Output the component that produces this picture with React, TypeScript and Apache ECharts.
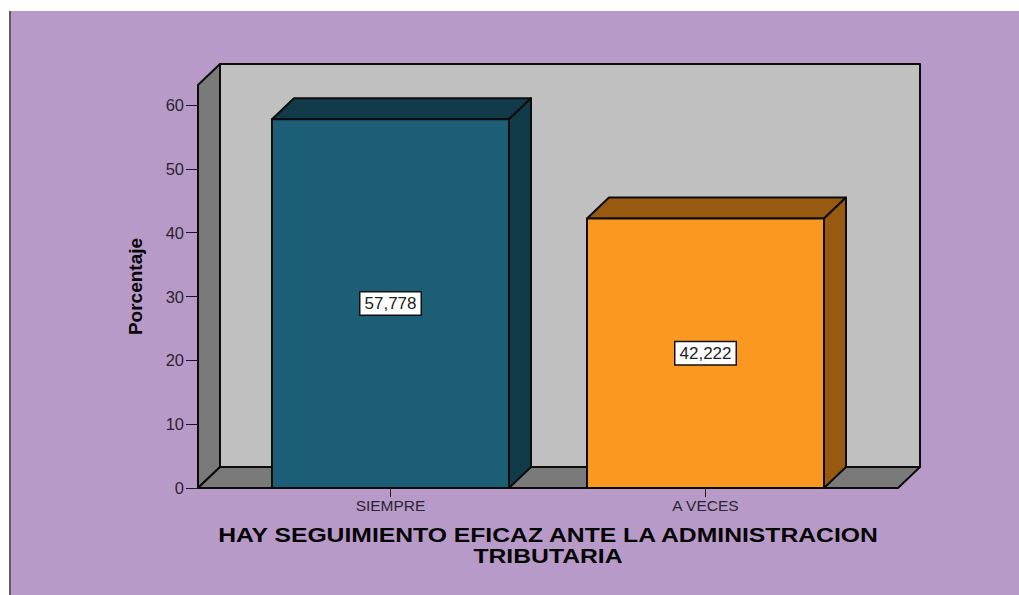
import React, { useEffect, useRef } from "react";
import * as echarts from "echarts";

const categories = ["SIEMPRE", "A VECES"];
const percentages = [57.778, 42.222];
const percentageLabels = ["57,778", "42,222"];
const yTicks = [0, 10, 20, 30, 40, 50, 60];
const faceColors = ["#1b5e75", "#fb981f"];
const sideColors = ["#123b49", "#985a10"];
const xTitle = "HAY SEGUIMIENTO EFICAZ ANTE LA ADMINISTRACION\nTRIBUTARIA";

const AXIS_TEXT = "#2a2533";
const FONT = "'Liberation Sans', Arial, sans-serif";
const DX = 22;
const DY = 21;
const BAR_W = 237;
const LEFT = 198;
const RIGHT = 898;
const TOP = 85;
const BASE = 488;

export default function App() {
  const ref = useRef<HTMLDivElement>(null);
  useEffect(() => {
    document.body.style.margin = "0";
    const chart = echarts.init(ref.current!, undefined, { renderer: "svg" });
    const line = { stroke: "#0c0c0c", lineWidth: 2, lineJoin: "round" };
    const poly = (points: number[][], fill: string) => ({
      type: "polygon",
      shape: { points },
      style: { fill, ...line },
      z: 0,
    });
    chart.setOption({
      animation: false,
      backgroundColor: "#ffffff",
      graphic: [
        { type: "rect", shape: { x: 11, y: 11, width: 1008, height: 584 }, style: { fill: "#b89ac8" }, z: -2 },
        { type: "rect", shape: { x: 9, y: 11, width: 2, height: 584 }, style: { fill: "#5f5a63" }, z: -2 },
        poly([[LEFT + DX, TOP - DY], [RIGHT + DX, TOP - DY], [RIGHT + DX, BASE - DY], [LEFT + DX, BASE - DY]], "#c0c0c0"),
        poly([[LEFT, TOP], [LEFT + DX, TOP - DY], [LEFT + DX, BASE - DY], [LEFT, BASE]], "#7a7a7a"),
        poly([[LEFT, BASE], [LEFT + DX, BASE - DY], [RIGHT + DX, BASE - DY], [RIGHT, BASE]], "#7a7a7a"),
        {
          type: "text",
          x: 548,
          y: 525,
          scaleX: 1.236,
          scaleY: 1,
          z: 3,
          style: {
            text: xTitle,
            fill: "#050505",
            fontFamily: FONT,
            fontWeight: "bold",
            fontSize: 20,
            lineHeight: 21,
            align: "center",
            verticalAlign: "top",
          },
        },
      ],
      grid: { left: 233, width: 630, top: TOP, height: BASE - TOP },
      xAxis: {
        type: "category",
        data: categories,
        axisLine: { show: false },
        axisTick: { show: true, alignWithLabel: true, length: 9, lineStyle: { color: "#1a1a1a", width: 1 } },
        axisLabel: { color: AXIS_TEXT, fontFamily: FONT, fontSize: 15.5, margin: 9, interval: 0 },
      },
      yAxis: {
        type: "value",
        min: 0,
        max: (BASE - TOP) / 6.383,
        interval: 10,
        offset: 35,
        splitLine: { show: false },
        axisLine: { show: false },
        axisTick: { show: true, length: 12, customValues: yTicks, lineStyle: { color: "#1a1a1a", width: 1 } },
        axisLabel: { color: AXIS_TEXT, fontFamily: FONT, fontSize: 16.5, margin: 14, customValues: yTicks },
        name: "Porcentaje",
        nameLocation: "middle",
        nameGap: 53,
        nameRotate: 90,
        nameTextStyle: { color: "#050505", fontFamily: FONT, fontWeight: "bold", fontSize: 19 },
      },
      series: [
        {
          type: "custom",
          data: percentages,
          encode: { x: 0, y: 1 },
          clip: false,
          z: 5,
          renderItem: (params: any, api: any) => {
            const i = params.dataIndex;
            const v = api.value(1);
            const c = api.coord([i, v]);
            const b = api.coord([i, 0]);
            const mid = api.coord([i, v / 2]);
            const x0 = c[0] - BAR_W / 2;
            const x1 = c[0] + BAR_W / 2;
            const ls = { stroke: "#0c0c0c", lineWidth: 2, lineJoin: "round" };
            return {
              type: "group",
              children: [
                { type: "polygon", shape: { points: [[x0, c[1]], [x0 + DX, c[1] - DY], [x1 + DX, c[1] - DY], [x1, c[1]]] }, style: { fill: sideColors[i], ...ls } },
                { type: "polygon", shape: { points: [[x1, c[1]], [x1 + DX, c[1] - DY], [x1 + DX, b[1] - DY], [x1, b[1]]] }, style: { fill: sideColors[i], ...ls } },
                { type: "rect", shape: { x: x0, y: c[1], width: BAR_W, height: b[1] - c[1] }, style: { fill: faceColors[i], ...ls } },
                {
                  type: "text",
                  x: c[0],
                  y: mid[1],
                  style: {
                    text: percentageLabels[i],
                    fill: "#222222",
                    fontFamily: FONT,
                    fontSize: 17,
                    align: "center",
                    verticalAlign: "middle",
                    backgroundColor: "#ffffff",
                    borderColor: "#111111",
                    borderWidth: 1.5,
                    padding: [3, 4, 2, 4],
                  },
                },
              ],
            };
          },
        },
      ],
    });
    return () => chart.dispose();
  }, []);
  return <div ref={ref} style={{ width: 1019, height: 595 }} />;
}
